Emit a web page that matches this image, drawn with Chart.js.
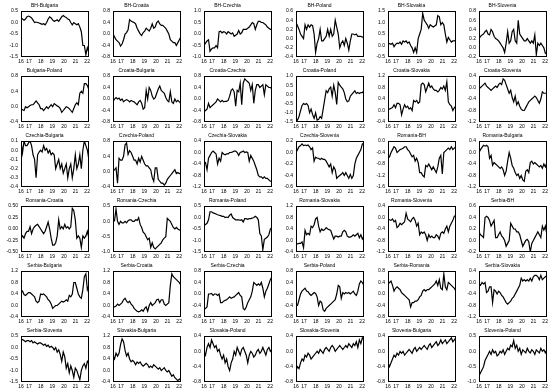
<!DOCTYPE html>
<html>
<head>
<meta charset="utf-8">
<script src="https://cdn.jsdelivr.net/npm/chart.js@4/dist/chart.umd.min.js"></script>
<style>
  body { margin: 0; background: #fff; width: 550px; height: 390px; position: relative; overflow: hidden; }
  canvas { position: absolute; }
</style>
</head>
<body>
<div id="panels"></div>
<script>
// === Panel titles (row by row) ===
const titles = [
  'BH-Bulgaria', 'BH-Croatia', 'BH-Czechia', 'BH-Poland', 'BH-Slovakia', 'BH-Slovenia',
  'Bulgaria-Poland', 'Croatia-Bulgaria', 'Croatia-Czechia', 'Croatia-Poland', 'Croatia-Slovakia', 'Croatia-Slovenia',
  'Czechia-Bulgaria', 'Czechia-Poland', 'Czechia-Slovakia', 'Czechia-Slovenia', 'Romania-BH', 'Romania-Bulgaria',
  'Romania-Croatia', 'Romania-Czechia', 'Romania-Poland', 'Romania-Slovakia', 'Romania-Slovenia', 'Serbia-BH',
  'Serbia-Bulgaria', 'Serbia-Croatia', 'Serbia-Czechia', 'Serbia-Poland', 'Serbia-Romania', 'Serbia-Slovakia',
  'Serbia-Slovenia', 'Slovakia-Bulgaria', 'Slovakia-Poland', 'Slovakia-Slovenia', 'Slovenia-Bulgaria', 'Slovenia-Poland'
];

// === Time axis: roughly every 1.5 months from spring 2016 ===
const firstObs = 2016.3;
const obsStep = 0.13;
const yearPos = [2016.3, 2017, 2018, 2019, 2020, 2021, 2022];
const yearLabels = ['16', '17', '18', '19', '20', '21', '22'];

// === Y ranges per panel ===
const yMin  = [-1.5, -0.8, -1.0, -0.4, -0.5, -0.2,  -0.4, -0.8, -0.8, -1.5, -0.4, -1.2,  -0.4, -0.4, -1.2, -0.6, -1.6, -1.2,
               -0.5, -1.0, -1.5, -0.4, -1.2, -0.2,  -0.4, -0.4, -0.8, -0.8, -0.8, -1.2,  -1.5, -0.4, -0.8, -0.8, -0.8, -1.0];
const yMax  = [ 0.5,  0.8,  1.0,  0.6,  1.5,  0.8,   0.8,  0.8,  0.8,  1.0,  1.2,  0.4,   0.1,  0.8,  0.4,  0.2,  0.0,  0.4,
                0.5,  0.5,  0.5,  1.2,  0.4,  0.6,   1.2,  1.2,  0.8,  0.8,  0.8,  0.4,   0.5,  1.2,  0.4,  0.4,  0.4,  0.5];
const yStep = [ 0.5,  0.4,  0.5,  0.2,  0.5,  0.2,   0.4,  0.4,  0.4,  0.5,  0.4,  0.4,   0.1,  0.4,  0.4,  0.2,  0.4,  0.4,
                0.25, 0.5,  0.5,  0.4,  0.4,  0.2,   0.4,  0.4,  0.4,  0.4,  0.4,  0.4,   0.5,  0.4,  0.4,  0.4,  0.4,  0.5];

// === Series ===
const bhBulgaria = [0.2,0.15,0.1,0.15,0.25,0.28,0.25,0.2,0.1,0.0,0.02,0.0,-0.02,-0.05,-0.08,-0.05,-0.1,0.0,0.15,0.25,0.2,0.1,0.05,0.08,0.12,0.05,0.15,0.25,0.3,0.25,0.22,0.15,0.12,0.0,-0.1,0.0,-0.05,-0.1,-0.05,-0.2,-0.4,-1.0,-1.0,-1.4,-1.1,-1.3];
const bhCroatia = [0.0,-0.1,-0.2,-0.25,-0.3,-0.42,-0.35,-0.2,0.0,0.05,0.15,0.5,0.45,0.42,0.4,0.35,0.2,0.1,0.0,-0.05,0.05,0.1,0.2,0.15,0.1,0.2,0.35,0.2,0.25,0.4,0.45,0.35,0.3,0.3,0.25,0.2,0.1,0.0,-0.2,-0.25,-0.3,-0.3,-0.4,-0.3,-0.2,-0.1];
const bhCzechia = [-0.5,-0.4,-0.3,-0.25,-0.75,-0.65,-0.6,-0.6,-0.5,-0.6,0.1,0.12,0.05,0.1,0.08,0.0,0.1,0.05,0.0,0.05,-0.1,-0.05,0.0,0.15,0.0,0.05,0.2,0.2,0.2,0.25,0.3,0.4,0.5,0.45,0.2,0.4,0.55,0.55,0.5,0.5,0.45,0.4,0.3,0.25,0.2,0.2];
const bhPoland = [0.35,0.28,0.2,0.1,0.05,0.0,0.3,0.2,0.3,0.25,0.3,0.28,0.1,-0.3,-0.1,0.0,0.2,-0.05,-0.05,0.0,0.05,0.2,0.05,0.2,0.05,0.1,0.4,0.25,0.1,-0.2,-0.1,-0.05,-0.15,0.0,-0.1,-0.25,-0.05,0.1,0.1,0.08,0.1,0.05,0.05,0.05,0.03,0.03];
const bhSlovakia = [0.1,0.08,0.05,0.1,-0.05,0.05,0.1,0.08,0.15,0.05,0.2,0.15,0.2,0.1,0.15,0.0,-0.1,-0.3,-0.1,-0.3,0.3,0.5,0.7,1.4,1.1,1.0,0.9,0.75,0.9,0.85,0.8,0.85,0.9,1.3,1.25,0.9,1.0,0.9,0.5,0.15,0.35,0.25,0.15,0.2,0.2,0.25];
const bhSlovenia = [0.2,0.25,0.28,0.3,0.35,0.38,0.3,0.28,0.4,0.35,0.25,0.2,0.18,0.15,0.1,0.05,0.0,-0.1,0.1,0.35,0.1,0.15,0.35,0.4,0.15,0.1,0.6,0.3,0.25,0.2,0.15,0.15,0.2,0.15,0.1,0.15,0.1,0.28,-0.15,0.1,0.05,0.1,0.05,0.0,-0.12,-0.1];

const bulgariaPoland = [-0.05,-0.08,-0.1,0.0,-0.03,0.0,0.03,0.05,0.05,0.1,0.15,0.1,0.05,-0.05,-0.05,-0.1,-0.05,0.0,-0.05,0.0,0.05,0.0,0.08,0.05,0.02,0.0,-0.05,-0.15,-0.1,-0.05,0.0,-0.02,-0.05,-0.1,-0.15,-0.05,0.05,0.1,0.05,0.35,0.4,0.35,0.6,0.6,0.55,0.45];
const croatiaBulgaria = [-0.1,0.0,0.05,0.0,0.03,-0.05,0.0,-0.1,-0.05,-0.02,-0.05,-0.1,-0.05,-0.08,-0.1,-0.15,-0.2,-0.1,-0.05,-0.15,-0.35,-0.3,0.3,0.0,0.4,0.3,0.1,0.0,0.05,0.2,0.35,0.45,0.3,0.25,0.2,0.05,-0.05,-0.1,0.25,-0.1,-0.15,0.0,-0.1,-0.05,-0.1,-0.15];
const croatiaCzechia = [-0.45,-0.4,-0.35,-0.15,-0.3,-0.25,-0.2,-0.15,-0.1,0.0,-0.05,-0.1,-0.05,-0.1,-0.08,-0.08,-0.05,0.1,0.3,0.35,0.25,-0.25,0.3,0.25,0.55,-0.2,0.55,0.7,0.65,0.6,0.55,0.3,0.5,-0.15,0.3,0.5,0.5,0.4,0.45,0.5,0.15,0.5,0.45,0.4,0.4,0.35];
const croatiaPoland = [-1.3,-1.4,-1.2,-0.9,-0.6,-0.5,-0.55,-0.5,-0.6,-1.0,-0.8,-1.1,-1.3,-1.0,-1.4,-1.35,-1.2,-1.3,-0.8,-0.3,0.2,0.1,0.3,0.4,-0.1,0.5,0.1,-0.55,0.65,0.5,0.4,0.3,0.1,-0.25,-0.4,-0.35,-0.1,0.0,0.1,0.2,0.05,0.1,0.05,0.1,0.1,0.2];
const croatiaSlovakia = [0.05,0.05,0.08,0.1,0.2,0.1,0.25,0.25,0.2,-0.15,0.05,0.2,0.1,0.15,0.05,0.1,0.0,0.35,0.3,0.35,0.25,0.3,0.9,0.95,0.9,0.65,0.8,0.95,0.8,0.85,0.75,0.7,0.7,0.65,0.7,0.8,0.75,0.85,0.7,1.0,0.3,0.2,0.15,0.0,0.1,0.15];
const croatiaSlovenia = [-0.05,0.0,0.05,0.1,0.15,0.05,0.0,-0.05,-0.1,-0.05,0.0,0.05,0.0,0.1,0.15,0.1,0.3,0.25,0.1,-0.05,-0.2,-0.1,-0.35,-0.5,-0.3,-0.6,-0.5,-0.65,-0.75,-0.8,-0.8,-0.7,-0.6,-0.5,-0.45,-0.4,-0.35,-0.3,-0.35,-0.45,-0.55,-0.4,-0.15,-0.2,-0.2,-0.2];

const czechiaBulgaria = [0.1,-0.03,0.1,0.05,0.05,0.08,0.1,0.05,-0.05,-0.1,-0.3,-0.05,-0.02,0.0,-0.02,0.05,0.0,0.02,-0.03,0.0,-0.05,-0.03,-0.05,-0.2,-0.15,-0.1,-0.2,-0.15,-0.25,-0.2,-0.15,-0.3,-0.2,-0.15,-0.3,-0.2,-0.05,-0.2,-0.15,-0.05,-0.2,0.0,0.1,0.05,0.0,-0.1];
const czechiaPoland = [0.0,0.05,0.1,-0.3,0.35,0.3,0.3,0.4,0.7,0.75,0.45,0.55,0.5,0.4,0.3,0.3,0.2,0.35,0.25,0.4,0.3,0.2,0.15,0.15,0.1,0.05,-0.15,-0.25,0.1,0.1,-0.2,-0.25,-0.3,-0.3,-0.35,-0.3,-0.2,-0.15,-0.1,-0.05,0.0,0.05,-0.05,-0.02,-0.05,-0.05];
const czechiaSlovakia = [-0.4,-0.35,-0.6,-0.2,-0.1,0.0,0.05,0.0,-0.05,-0.4,-0.2,-0.3,0.0,-0.05,-0.08,-0.05,-0.05,0.0,0.0,0.02,0.05,0.05,0.0,-0.1,0.0,0.02,0.05,0.0,0.02,0.0,-0.3,-0.1,-0.2,-0.3,-0.45,-0.6,-0.8,-0.85,-0.85,-0.9,-0.85,-0.9,-0.9,-0.95,-1.0,-1.0];
const czechiaSlovenia = [0.0,0.05,0.1,0.12,0.15,0.12,0.13,0.12,0.13,0.1,0.05,0.08,-0.15,-0.08,-0.1,-0.1,-0.12,-0.1,-0.12,-0.12,-0.15,-0.2,-0.25,-0.2,-0.35,-0.25,-0.3,-0.45,-0.42,-0.4,-0.38,-0.35,-0.4,-0.35,-0.4,-0.45,-0.38,-0.45,-0.4,-0.2,-0.1,-0.05,0.0,0.05,0.15,0.15];
const romaniaBH = [-0.6,-0.55,-0.4,-0.3,-0.2,-0.25,-0.4,-0.35,-0.3,-0.28,-0.25,-0.2,-0.2,-0.3,-0.35,-0.45,-0.55,-0.5,-0.7,-0.6,-0.75,-1.1,-1.1,-1.2,-1.25,-0.85,-0.9,-0.8,-0.9,-1.0,-0.9,-1.0,-1.1,-0.9,-0.6,-0.5,-1.15,-0.4,-0.35,-0.3,-0.25,-0.3,-0.2,-0.3,-0.25,-0.2];
const romaniaBulgaria = [0.0,0.1,0.18,0.25,0.22,0.25,0.2,-0.2,-0.1,-0.45,-0.35,-0.4,-0.45,-0.5,-0.55,-0.5,-0.6,-0.8,-0.65,-0.3,0.0,-0.2,-0.45,-0.55,-0.7,-0.8,-0.75,-0.9,-0.8,-0.95,-1.0,-0.65,-0.6,-0.7,-0.35,-0.3,-0.4,-0.35,-0.4,-0.45,-0.5,-0.45,-0.55,-0.4,-0.5,-0.35];

const romaniaCroatia = [-0.2,-0.15,-0.2,-0.1,-0.05,-0.05,0.05,-0.1,0.0,0.05,0.08,0.1,0.05,0.0,-0.05,-0.1,-0.05,0.05,0.15,0.0,-0.2,-0.35,-0.35,-0.3,-0.15,0.2,0.0,0.05,0.0,0.1,0.02,0.05,0.0,0.05,0.45,0.4,0.2,-0.2,-0.15,-0.2,-0.4,-0.15,-0.2,-0.15,-0.05,-0.2];
const romaniaCzechia = [0.0,0.02,0.4,0.0,-0.1,0.0,-0.05,-0.05,0.0,-0.05,0.02,0.05,0.05,0.0,0.0,0.05,0.03,0.12,-0.1,-0.2,-0.35,-0.4,-0.5,-0.6,-0.55,-0.85,-0.7,-0.85,-0.9,-0.85,-0.8,-0.75,-0.7,-0.6,-0.55,-0.5,0.1,0.05,0.0,-0.1,-0.2,-0.25,-0.2,-0.25,-0.28,-0.3];
const romaniaPoland = [-0.35,-0.3,-0.25,-0.1,0.25,0.25,0.2,0.18,0.15,0.12,0.1,0.08,0.05,0.05,0.0,0.02,0.0,0.1,0.15,0.0,-0.05,-0.1,-0.1,-0.1,-0.12,-0.1,-0.2,-0.05,-0.05,-0.08,-0.05,-0.05,-0.03,0.0,0.05,0.0,-0.1,-0.7,-0.8,-1.4,-0.95,-0.9,-0.85,-0.75,-0.5,-0.45];
const romaniaSlovakia = [-0.1,-0.12,-0.1,-0.1,-0.05,-0.25,0.35,0.2,0.25,0.2,0.5,0.45,0.55,0.75,0.8,0.5,0.3,0.4,0.35,0.38,0.45,0.4,0.38,0.35,0.2,0.05,0.15,0.15,0.12,0.15,0.15,0.3,0.35,0.3,0.15,0.12,0.12,0.15,0.2,0.15,0.2,0.25,0.1,0.2,0.05,0.15];
const romaniaSlovenia = [-0.05,-0.08,-0.1,-0.05,-0.15,-0.1,-0.35,-0.3,-0.2,-0.25,-0.2,-0.15,0.15,-0.05,-0.1,-0.15,-0.05,0.0,-0.1,-0.3,-0.2,-0.6,-0.5,-0.55,-0.5,-0.6,-0.8,-0.6,-0.7,-0.65,-0.7,-0.7,-0.6,-0.65,-0.75,-0.55,-0.5,-0.55,-0.4,-0.3,-0.5,-0.3,-0.2,-0.1,0.05,0.05];
const serbiaBH = [0.15,0.1,0.08,0.05,0.4,0.42,0.4,0.35,0.25,0.3,0.35,0.05,0.05,0.1,0.15,0.08,0.05,0.0,-0.1,-0.05,0.0,0.3,0.25,0.2,0.2,0.15,0.15,0.1,0.0,-0.1,-0.05,0.0,0.02,-0.02,-0.2,-0.05,0.0,0.05,0.1,0.15,0.1,0.05,0.25,0.18,0.25,0.1];

const serbiaBulgaria = [0.45,0.5,0.38,0.35,0.4,0.45,0.45,0.4,0.35,0.3,0.15,0.1,0.15,0.4,0.38,0.4,0.35,0.3,0.2,0.15,0.05,-0.1,-0.05,0.0,0.0,0.05,0.1,0.15,0.12,0.15,0.2,0.15,0.35,0.3,0.4,0.8,0.8,0.6,0.4,0.3,0.25,0.55,1.0,1.1,0.55,0.7];
const serbiaCroatia = [-0.05,-0.05,-0.02,0.05,0.0,0.05,0.1,0.2,0.25,0.15,0.1,0.15,0.05,0.0,-0.1,-0.15,-0.2,-0.22,-0.2,-0.15,-0.2,-0.1,-0.05,-0.2,0.0,0.1,0.0,0.05,0.1,0.2,0.22,0.1,0.2,0.2,0.05,0.0,0.05,0.1,0.7,1.1,1.0,0.95,0.9,0.85,0.8,0.7];
const serbiaCzechia = [-0.55,-0.5,-0.45,0.0,0.0,0.02,-0.05,0.0,0.0,-0.05,0.0,-0.3,-0.3,-0.25,-0.22,-0.2,-0.15,-0.1,-0.15,-0.12,-0.1,-0.05,0.0,0.05,-0.05,-0.1,-0.5,-0.55,-0.45,-0.3,-0.2,-0.1,0.1,0.4,0.35,0.3,0.35,0.3,0.4,0.2,-0.1,0.1,0.2,0.35,0.5,0.6];
const serbiaPoland = [-0.4,-0.4,-0.2,0.0,0.1,0.15,0.2,0.1,0.08,0.0,-0.05,0.0,0.05,0.02,-0.1,-0.4,-0.25,-0.3,-0.55,-0.6,-0.5,-0.45,-0.4,-0.35,-0.3,-0.25,-0.2,0.0,0.3,0.25,-0.15,0.05,0.0,0.05,0.02,0.05,0.0,0.05,0.1,0.0,-0.05,0.1,0.35,0.45,0.4,0.3];
const serbiaRomania = [0.35,0.4,0.45,0.3,0.1,0.2,0.25,0.2,0.15,0.05,0.0,-0.05,-0.1,-0.15,-0.2,-0.45,-0.3,-0.3,-0.25,-0.25,-0.2,-0.1,-0.05,0.1,0.15,0.1,0.15,0.15,0.2,0.25,0.3,0.35,0.45,0.3,0.5,0.2,0.15,0.7,0.25,0.15,0.4,0.35,0.3,0.25,0.2,0.1];
const serbiaSlovakia = [-0.05,-0.1,0.0,-0.05,0.0,-0.35,-0.3,-0.15,-0.15,-0.7,-0.25,-0.3,-0.4,-0.3,-0.35,-0.45,-0.5,-0.6,-0.7,-0.75,-0.7,-0.65,-0.55,-0.5,-0.4,-0.3,-0.2,-0.1,0.15,0.05,0.1,0.05,0.1,0.05,0.15,0.05,0.2,0.25,0.25,0.2,0.1,0.25,0.1,0.15,0.2,0.25];

const serbiaSlovenia = [0.3,0.35,0.3,0.25,0.3,0.3,0.25,0.3,0.2,0.25,0.2,0.15,0.2,0.2,0.15,0.1,0.15,0.05,0.1,0.0,0.05,0.0,-0.1,0.0,-0.2,-0.1,-0.3,-0.6,-0.2,-0.4,-0.9,-0.7,-1.1,-0.8,-1.0,-1.3,-0.9,-1.0,-1.2,-1.4,-1.0,-0.8,-0.7,-0.9,-0.6,-0.7];
const slovakiaBulgaria = [0.5,0.4,0.6,0.5,0.6,0.9,1.1,1.0,0.7,0.5,0.6,0.4,0.3,0.35,0.3,0.2,0.3,0.25,0.3,0.2,0.15,0.2,0.25,0.2,0.1,0.15,0.1,0.2,0.15,0.1,0.05,0.1,0.0,0.05,0.1,0.0,-0.05,0.0,-0.1,-0.2,-0.15,-0.25,-0.3,-0.35,-0.3,-0.35];
const slovakiaPoland = [0.0,-0.1,0.1,0.2,0.1,0.3,0.2,0.1,0.15,0.0,0.05,-0.1,-0.2,-0.1,-0.3,-0.2,-0.4,-0.5,-0.3,-0.2,0.0,-0.1,0.1,0.0,-0.1,0.05,0.1,0.0,-0.1,-0.3,-0.1,0.0,-0.05,-0.15,-0.1,0.0,0.05,-0.05,0.0,0.1,0.0,-0.1,0.05,0.1,0.0,0.05];
const slovakiaSlovenia = [-0.5,-0.4,-0.45,-0.3,-0.2,-0.25,-0.1,-0.15,-0.05,-0.1,-0.2,-0.15,-0.1,-0.05,0.0,-0.05,0.05,0.0,-0.05,0.05,0.1,0.05,0.0,0.1,0.15,0.1,0.0,0.05,0.1,0.15,0.1,0.05,0.1,0.15,0.1,0.2,0.15,0.1,0.2,0.15,0.25,0.1,0.3,0.2,0.35,0.3];
const sloveniaBulgaria = [-0.3,-0.4,-0.3,-0.2,-0.1,-0.15,-0.05,-0.1,0.0,-0.05,0.0,-0.1,-0.05,0.0,0.05,0.0,-0.05,0.05,0.1,0.0,0.05,0.1,0.05,0.1,0.15,0.1,0.05,0.15,0.2,0.1,0.15,0.2,0.25,0.15,0.2,0.3,0.2,0.25,0.3,0.2,0.25,0.3,0.35,0.25,0.3,0.35];
const sloveniaPoland = [-0.8,-0.7,-0.6,-0.5,-0.3,-0.2,-0.1,0.0,-0.1,0.05,-0.05,0.0,-0.15,-0.1,0.0,-0.05,0.05,-0.1,0.0,0.1,0.05,0.2,0.15,0.35,0.1,0.2,0.0,0.1,-0.1,0.05,0.0,-0.05,0.1,0.0,-0.05,0.05,0.0,-0.1,0.05,0.0,-0.05,0.1,0.0,0.05,-0.05,0.05];

const series = [
  bhBulgaria, bhCroatia, bhCzechia, bhPoland, bhSlovakia, bhSlovenia,
  bulgariaPoland, croatiaBulgaria, croatiaCzechia, croatiaPoland, croatiaSlovakia, croatiaSlovenia,
  czechiaBulgaria, czechiaPoland, czechiaSlovakia, czechiaSlovenia, romaniaBH, romaniaBulgaria,
  romaniaCroatia, romaniaCzechia, romaniaPoland, romaniaSlovakia, romaniaSlovenia, serbiaBH,
  serbiaBulgaria, serbiaCroatia, serbiaCzechia, serbiaPoland, serbiaRomania, serbiaSlovakia,
  serbiaSlovenia, slovakiaBulgaria, slovakiaPoland, slovakiaSlovenia, sloveniaBulgaria, sloveniaPoland
];

// === Layout ===
const COLS = 6, CELL_W = 550 / 6, CELL_H = 65;
const FONT = 'Liberation Sans, Arial, sans-serif';

// box round the plot area
const framePlugin = {
  id: 'frame',
  afterDraw(chart) {
    const { ctx, chartArea: a } = chart;
    ctx.save();
    ctx.strokeStyle = '#000';
    ctx.lineWidth = 1;
    const l = Math.round(a.left) + 0.5, t = Math.round(a.top) + 0.5;
    ctx.strokeRect(l, t, Math.round(a.right) - l - 0.5, Math.round(a.bottom) - t - 0.5);
    ctx.restore();
  }
};

const decimals = step => (String(step).split('.')[1] || '').length;

const holder = document.getElementById('panels');

titles.forEach((title, k) => {
  const row = Math.floor(k / COLS), col = k % COLS;
  const cv = document.createElement('canvas');
  cv.width = 92;
  cv.height = CELL_H;
  cv.style.left = Math.round(col * CELL_W) + 'px';
  cv.style.top = (row * CELL_H) + 'px';
  holder.appendChild(cv);

  const pts = series[k].map((v, i) => ({ x: firstObs + i * obsStep, y: v }));
  const dec = decimals(yStep[k]);

  new Chart(cv.getContext('2d'), {
    type: 'line',
    data: {
      datasets: [{
        data: pts,
        borderColor: '#000',
        borderWidth: 1.2,
        pointRadius: 0,
        tension: 0,
        fill: false
      }]
    },
    options: {
      responsive: false,
      animation: false,
      devicePixelRatio: 1,
      layout: { padding: { left: 0, right: 3, top: 0, bottom: 0 } },
      plugins: {
        legend: { display: false },
        tooltip: { enabled: false },
        title: {
          display: true,
          text: title,
          color: '#000',
          font: { family: FONT, size: 5, weight: 'normal' },
          padding: { top: 3, bottom: 2 }
        }
      },
      scales: {
        x: {
          type: 'linear',
          min: firstObs,
          max: firstObs + (series[k].length - 1) * obsStep,
          grid: { display: false, drawTicks: false, tickLength: 0 },
          border: { display: false },
          afterBuildTicks: s => { s.ticks = yearPos.map(v => ({ value: v })); },
          afterFit: s => { s.height = 8; },
          ticks: {
            autoSkip: false,
            maxRotation: 0,
            padding: 2,
            color: '#000',
            font: { family: FONT, size: 5 },
            callback: (v, i) => yearLabels[i]
          }
        },
        y: {
          min: yMin[k],
          max: yMax[k],
          grid: { display: false, drawTicks: false, tickLength: 0 },
          border: { display: false },
          afterFit: s => { s.width = 21; },
          ticks: {
            stepSize: yStep[k],
            padding: 3,
            color: '#000',
            font: { family: FONT, size: 5 },
            callback: v => v.toFixed(dec)
          }
        }
      }
    },
    plugins: [framePlugin]
  });
});
</script>
</body>
</html>
